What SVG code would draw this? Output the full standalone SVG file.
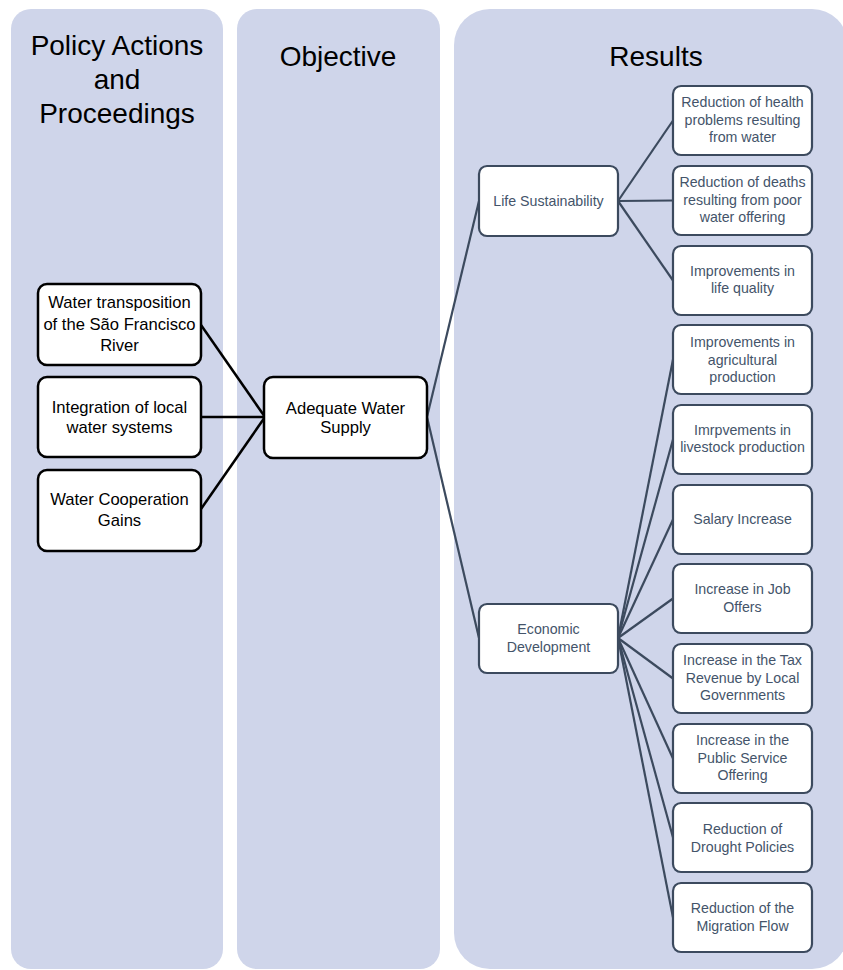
<svg xmlns="http://www.w3.org/2000/svg" width="843" height="970" viewBox="0 0 843 970">
<style>
.col{fill:#CFD5EA;}
.hdr{font-family:"Liberation Sans",Arial,sans-serif;font-size:28px;fill:#000;text-anchor:middle;}
.bn{fill:#fff;stroke:#000;stroke-width:2.5;}
.bt{font-family:"Liberation Sans",Arial,sans-serif;font-size:16.6px;fill:#000;text-anchor:middle;}
.rn{fill:#fff;stroke:#3C4A5E;stroke-width:2.2;}
.rt{font-family:"Liberation Sans",Arial,sans-serif;font-size:14.2px;fill:#44546A;text-anchor:middle;}
.cb{stroke:#000;stroke-width:2.5;fill:none;}
.cr{stroke:#3C4A5E;stroke-width:2.2;fill:none;}
</style>
<rect width="843" height="970" fill="#fff"/>
<g id="columns">
<rect class="col" x="11" y="9" width="212" height="960" rx="20"/>
<rect class="col" x="237" y="9" width="203" height="960" rx="20"/>
<rect class="col" x="454" y="9" width="394" height="960" rx="36"/>
<text class="hdr" x="117" y="55">Policy Actions</text>
<text class="hdr" x="117" y="89">and</text>
<text class="hdr" x="117" y="123">Proceedings</text>
<text class="hdr" x="338" y="66">Objective</text>
<text class="hdr" x="656" y="66">Results</text>
</g>
<g id="connectors">
<line class="cb" x1="201" y1="325" x2="265" y2="417"/>
<line class="cb" x1="201" y1="417" x2="265" y2="417"/>
<line class="cb" x1="201" y1="509" x2="265" y2="417"/>
<line class="cr" x1="427" y1="417" x2="479" y2="201"/>
<line class="cr" x1="427" y1="417" x2="479" y2="638"/>
<line class="cr" x1="618" y1="201" x2="673" y2="120.5"/>
<line class="cr" x1="618" y1="201" x2="673" y2="200.5"/>
<line class="cr" x1="618" y1="201" x2="673" y2="280.5"/>
<line class="cr" x1="618" y1="638" x2="673" y2="359.5"/>
<line class="cr" x1="618" y1="638" x2="673" y2="439.5"/>
<line class="cr" x1="618" y1="638" x2="673" y2="519.5"/>
<line class="cr" x1="618" y1="638" x2="673" y2="598.5"/>
<line class="cr" x1="618" y1="638" x2="673" y2="678.5"/>
<line class="cr" x1="618" y1="638" x2="673" y2="758.5"/>
<line class="cr" x1="618" y1="638" x2="673" y2="837.5"/>
<line class="cr" x1="618" y1="638" x2="673" y2="917.5"/>
</g>
<g id="n-water-transposition">
<rect class="bn" x="38" y="284" width="163" height="81" rx="9"/>
<text class="bt" x="119.5" y="308">Water transposition</text>
<text class="bt" x="119.5" y="330">of the São Francisco</text>
<text class="bt" x="119.5" y="351">River</text>
</g>
<g id="n-integration">
<rect class="bn" x="38" y="377" width="163" height="80" rx="9"/>
<text class="bt" x="119.5" y="413">Integration of local</text>
<text class="bt" x="119.5" y="433">water systems</text>
</g>
<g id="n-cooperation">
<rect class="bn" x="38" y="470" width="163" height="81" rx="9"/>
<text class="bt" x="119.5" y="505">Water Cooperation</text>
<text class="bt" x="119.5" y="526">Gains</text>
</g>
<g id="n-adequate">
<rect class="bn" x="264" y="377" width="163" height="81" rx="9"/>
<text class="bt" x="345.5" y="414">Adequate Water</text>
<text class="bt" x="345.5" y="433">Supply</text>
</g>
<g id="n-life">
<rect class="rn" x="479" y="166" width="139" height="70" rx="8"/>
<text class="rt" x="548.5" y="206">Life Sustainability</text>
</g>
<g id="n-economic">
<rect class="rn" x="479" y="604" width="139" height="69" rx="8"/>
<text class="rt" x="548.5" y="634">Economic</text>
<text class="rt" x="548.5" y="652">Development</text>
</g>
<g id="r1">
<rect class="rn" x="673" y="86" width="139" height="69" rx="8"/>
<text class="rt" x="742.5" y="107">Reduction of health</text>
<text class="rt" x="742.5" y="125">problems resulting</text>
<text class="rt" x="742.5" y="142">from water</text>
</g>
<g id="r2">
<rect class="rn" x="673" y="166" width="139" height="69" rx="8"/>
<text class="rt" x="742.5" y="187">Reduction of deaths</text>
<text class="rt" x="742.5" y="205">resulting from poor</text>
<text class="rt" x="742.5" y="222">water offering</text>
</g>
<g id="r3">
<rect class="rn" x="673" y="246" width="139" height="69" rx="8"/>
<text class="rt" x="742.5" y="276">Improvements in</text>
<text class="rt" x="742.5" y="293">life quality</text>
</g>
<g id="r4">
<rect class="rn" x="673" y="325" width="139" height="69" rx="8"/>
<text class="rt" x="742.5" y="347">Improvements in</text>
<text class="rt" x="742.5" y="365">agricultural</text>
<text class="rt" x="742.5" y="382">production</text>
</g>
<g id="r5">
<rect class="rn" x="673" y="405" width="139" height="69" rx="8"/>
<text class="rt" x="742.5" y="435">Imrpvements in</text>
<text class="rt" x="742.5" y="452">livestock production</text>
</g>
<g id="r6">
<rect class="rn" x="673" y="485" width="139" height="69" rx="8"/>
<text class="rt" x="742.5" y="524">Salary Increase</text>
</g>
<g id="r7">
<rect class="rn" x="673" y="564" width="139" height="69" rx="8"/>
<text class="rt" x="742.5" y="594">Increase in Job</text>
<text class="rt" x="742.5" y="612">Offers</text>
</g>
<g id="r8">
<rect class="rn" x="673" y="644" width="139" height="69" rx="8"/>
<text class="rt" x="742.5" y="665">Increase in the Tax</text>
<text class="rt" x="742.5" y="683">Revenue by Local</text>
<text class="rt" x="742.5" y="700">Governments</text>
</g>
<g id="r9">
<rect class="rn" x="673" y="724" width="139" height="69" rx="8"/>
<text class="rt" x="742.5" y="745">Increase in the</text>
<text class="rt" x="742.5" y="763">Public Service</text>
<text class="rt" x="742.5" y="780">Offering</text>
</g>
<g id="r10">
<rect class="rn" x="673" y="803" width="139" height="69" rx="8"/>
<text class="rt" x="742.5" y="834">Reduction of</text>
<text class="rt" x="742.5" y="852">Drought Policies</text>
</g>
<g id="r11">
<rect class="rn" x="673" y="883" width="139" height="69" rx="8"/>
<text class="rt" x="742.5" y="913">Reduction of the</text>
<text class="rt" x="742.5" y="931">Migration Flow</text>
</g>
</svg>
